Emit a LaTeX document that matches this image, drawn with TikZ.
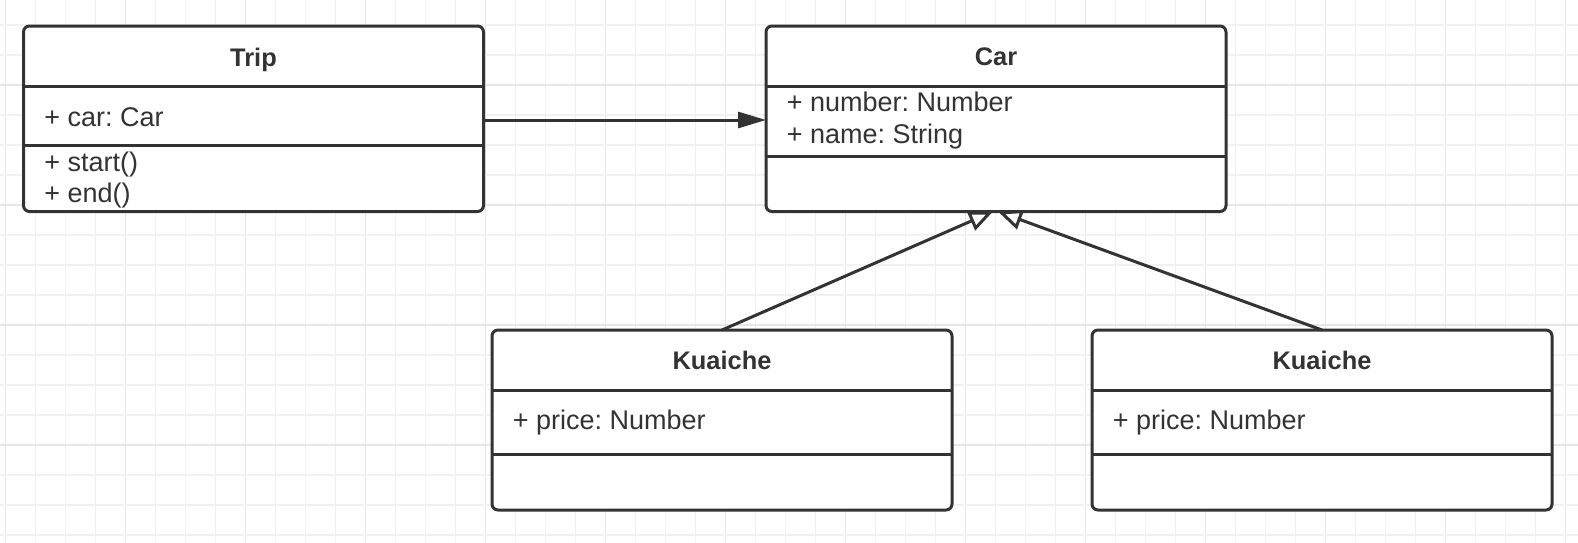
\documentclass[tikz,border=0pt]{standalone}
\usepackage{fontspec}
\setmainfont{Liberation Sans}
\usetikzlibrary{arrows.meta}
\definecolor{linec}{HTML}{333333}
\definecolor{gridminor}{HTML}{F1F1F1}
\definecolor{gridmajor}{HTML}{E6E6E6}
\frenchspacing
\begin{document}
\begin{tikzpicture}[x={(0.5pt,0)},y={(0,-0.5pt)},
  umlbox/.style={draw=linec, line width=1.5pt, rounded corners=3pt, fill=white,
     minimum width=230pt, inner sep=0pt, outer sep=0pt},
  divline/.style={draw=linec, line width=1.5pt},
  ttl/.style={font=\fontsize{12.7}{15}\selectfont\bfseries, text=linec, anchor=base, inner sep=0pt},
  attr/.style={font=\fontsize{13.5}{15}\selectfont, text=linec, anchor=base west, inner sep=0pt},
  assoc/.style={draw=linec, line width=1.5pt, -{Triangle[length=14pt,width=8pt]}},
  gener/.style={draw=linec, line width=1.5pt, -{Triangle[length=12pt,width=10pt,fill=white]}},
]
\useasboundingbox[fill=white] (0,0) rectangle (1578,542);
% grid
\foreach \k in {0,...,52}{
  \pgfmathtruncatemacro{\m}{mod(\k,4)}
  \ifnum\m=0
    \draw[gridmajor, line width=0.9pt] (5.5+30*\k,0) -- (5.5+30*\k,542);
  \else
    \draw[gridminor, line width=0.7pt] (5.5+30*\k,0) -- (5.5+30*\k,542);
  \fi
}
\foreach \k in {0,...,17}{
  \pgfmathtruncatemacro{\m}{mod(\k+2,4)}
  \ifnum\m=0
    \draw[gridmajor, line width=0.9pt] (0,25+30*\k) -- (1578,25+30*\k);
  \else
    \draw[gridminor, line width=0.7pt] (0,25+30*\k) -- (1578,25+30*\k);
  \fi
}
% boxes
\node[umlbox, minimum height=92.75pt] (trip) at (253.5,118.75) {};
\node[umlbox, minimum height=92.75pt] (car) at (996,118.75) {};
\node[umlbox, minimum height=90pt] (k1) at (722,420) {};
\node[umlbox, minimum height=90pt] (k2) at (1322,420) {};
% dividers
\draw[divline] (23.5,86) -- (483.5,86);
\draw[divline] (23.5,145.5) -- (483.5,145.5);
\draw[divline] (766,86) -- (1226,86);
\draw[divline] (766,156) -- (1226,156);
\draw[divline] (492,390) -- (952,390);
\draw[divline] (492,454) -- (952,454);
\draw[divline] (1092,390) -- (1552,390);
\draw[divline] (1092,454) -- (1552,454);
% texts
\node[ttl] (triptitle) at (253.5,66) {Trip};
\node[attr] (tripattr) at (44,126) {+ car: Car};
\node[attr] (tripm1) at (44,171.5) {+ start()};
\node[attr] (tripm2) at (44,202.5) {+ end()};
\node[ttl] (cartitle) at (996,65.5) {Car};
\node[attr] (cara1) at (786.5,111.5) {+ number: Number};
\node[attr] (cara2) at (786.5,143.5) {+ name: String};
\node[ttl] (k1title) at (722,369) {Kuaiche};
\node[attr] (k1a) at (512.5,429) {+ price: Number};
\node[ttl] (k2title) at (1322,369) {Kuaiche};
\node[attr] (k2a) at (1112.5,429) {+ price: Number};
% connectors
\draw[assoc] ([yshift=-0.625pt]trip.east) -- ([yshift=-0.625pt]car.west);
\draw[gener] (k1.north) -- ([xshift=-1.5pt]car.south);
\draw[gener] (k2.north) -- ([xshift=1pt]car.south);
\end{tikzpicture}
\end{document}
